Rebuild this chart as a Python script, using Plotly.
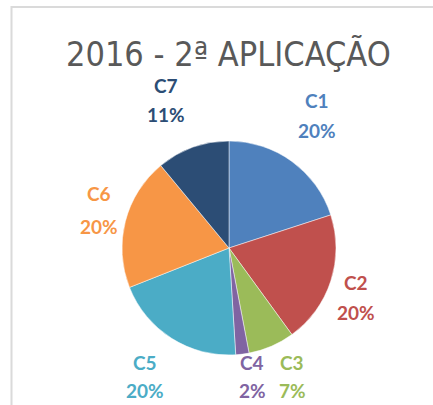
import plotly.graph_objects as go

# Data
categories = ["C1", "C2", "C3", "C4", "C5", "C6", "C7"]
shares = [20, 20, 7, 2, 20, 20, 11]
colors = ["#4F81BD", "#C0504D", "#9BBB59", "#8064A2", "#4BACC6", "#F79646", "#2C4D75"]

W, H = 433, 405

# Pie placement (pixels)
cx, cy, r = 229, 248, 107

# Label centres (pixels): name line and percentage line
label_pos = {
    "C1": (317, 101, 130),
    "C2": (356, 282, 312),
    "C3": (292, 362, 390),
    "C4": (252, 362, 390),
    "C5": (145, 362, 390),
    "C6": (99, 194, 227),
    "C7": (166, 85, 115),
}


def px(x):
    return x / W


def py(y):
    return 1 - y / H


fig = go.Figure(
    go.Pie(
        labels=categories,
        values=shares,
        marker=dict(colors=colors, line=dict(color="rgba(255,255,255,0.6)", width=0.8)),
        sort=False,
        direction="clockwise",
        rotation=0,
        textinfo="none",
        hoverinfo="label+percent",
        domain=dict(x=[px(cx - r), px(cx + r)], y=[py(cy + r), py(cy - r)]),
        showlegend=False,
    )
)

total = sum(shares)
annotations = [
    dict(
        text="2016 - 2ª APLICAÇÃO",
        x=px(228.5), y=py(54), xref="paper", yref="paper",
        xanchor="center", yanchor="middle", showarrow=False,
        font=dict(family="DejaVu Sans Condensed, Roboto", size=34, color="#595959"),
    )
]
for name, val, col in zip(categories, shares, colors):
    lx, ly1, ly2 = label_pos[name]
    pct = f"{round(100 * val / total)}%"
    for txt, ly in ((name, ly1), (pct, ly2)):
        annotations.append(
            dict(
                text=f"<b>{txt}</b>",
                x=px(lx), y=py(ly), xref="paper", yref="paper",
                xanchor="center", yanchor="middle", showarrow=False,
                font=dict(family="Lato", size=19, color=col),
            )
        )

fig.update_layout(
    width=W,
    height=H,
    margin=dict(l=0, r=0, t=0, b=0),
    paper_bgcolor="white",
    plot_bgcolor="white",
    annotations=annotations,
    shapes=[
        dict(
            type="rect", xref="paper", yref="paper",
            x0=px(11.5), x1=1.05, y0=-0.05, y1=py(7),
            line=dict(color="#DADADA", width=2),
        )
    ],
)

fig.write_html("out.html")
